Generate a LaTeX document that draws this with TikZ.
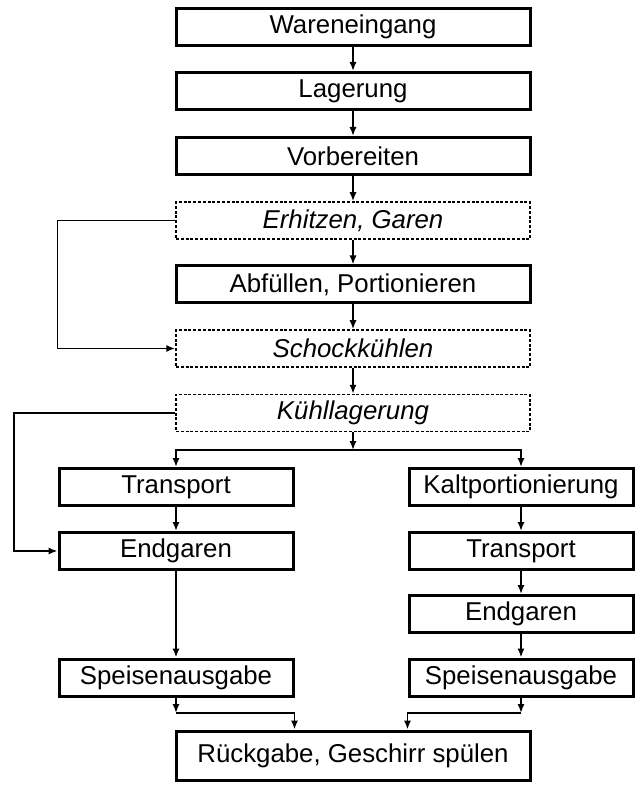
\documentclass[tikz,border=0pt]{standalone}
\usepackage{fontspec}
\setmainfont{Liberation Sans}
\usepackage{tikz}
\usetikzlibrary{arrows.meta}
\tikzset{
  stepbox/.style={draw, line width=1.5pt, minimum height=18.5pt, inner sep=0pt,
    font=\fontsize{12.9}{15}\selectfont},
  hotbox/.style={draw, line width=0.75pt, dash pattern=on 1.5pt off 0.9pt, minimum height=18.5pt,
    inner sep=0pt, font=\fontsize{12.9}{15}\selectfont\itshape},
  flow/.style={line width=0.9pt, -{Latex[length=4.5pt,width=3.6pt]}}
}
\begin{document}
\begin{tikzpicture}[x=0.5pt,y=-0.5pt]
\useasboundingbox (0,0) rectangle (635,785);
% Hauptstrang
\node [stepbox, minimum width=177pt] (we) at (353,27) {Wareneingang};
\node [stepbox, minimum width=177pt] (la) at (353,91) {Lagerung};
\node [stepbox, minimum width=177pt] (vb) at (353,156) {Vorbereiten};
\node [hotbox, minimum width=177pt] (eg) at (353,220.5) {Erhitzen, Garen};
\node [stepbox, minimum width=177pt] (ap) at (353,284.5) {Abfüllen, Portionieren};
\node [hotbox, minimum width=177pt] (sk) at (353,348.5) {Schockkühlen};
\node [hotbox, minimum width=177pt] (kl) at (353,413) {Kühllagerung};
% linker Zweig
\node [stepbox, minimum width=117pt] (tl) at (176,487) {Transport};
\node [stepbox, minimum width=117pt] (egl) at (176,551) {Endgaren};
\node [stepbox, minimum width=117pt] (sal) at (176,677.5) {Speisenausgabe};
% rechter Zweig
\node [stepbox, minimum width=112pt] (kp) at (521,487) {Kaltportionierung};
\node [stepbox, minimum width=112pt] (tr) at (521,551) {Transport};
\node [stepbox, minimum width=112pt] (egr) at (521,614) {Endgaren};
\node [stepbox, minimum width=112pt] (sar) at (521,677.5) {Speisenausgabe};
% Abschluss
\node [stepbox, minimum width=177pt, minimum height=24.5pt] (rg) at (353,755.5) {Rückgabe, Geschirr spülen};
\coordinate (split) at (353,450);
\coordinate (joinl) at (176,713);
\coordinate (joinr) at (521,713);
\coordinate (loopk) at (14,413);
\draw [flow] (we) -- (la);
\draw [flow] (la) -- (vb);
\draw [flow] (vb) -- (eg);
\draw [flow] (eg) -- (ap);
\draw [flow] (ap) -- (sk);
\draw [flow] (sk) -- (kl);
\draw [flow] (eg.west) -- (eg.west -| tl.west) |- (sk.west);
\draw [flow] (kl) -- (split);
\draw [flow] (split) -| (tl.north);
\draw [flow] (split) -| (kp.north);
\draw [flow] (kl.west) -- (loopk) |- (egl.west);
\draw [flow] (tl) -- (egl);
\draw [flow] (egl) -- (sal);
\draw [flow] (kp) -- (tr);
\draw [flow] (tr) -- (egr);
\draw [flow] (egr) -- (sar);
\draw [flow] (sal) -- (joinl);
\draw [flow] (joinl) -| (sal.east |- rg.north);
\draw [flow] (sar) -- (joinr);
\draw [flow] (joinr) -| (sar.west |- rg.north);
\end{tikzpicture}
\end{document}
